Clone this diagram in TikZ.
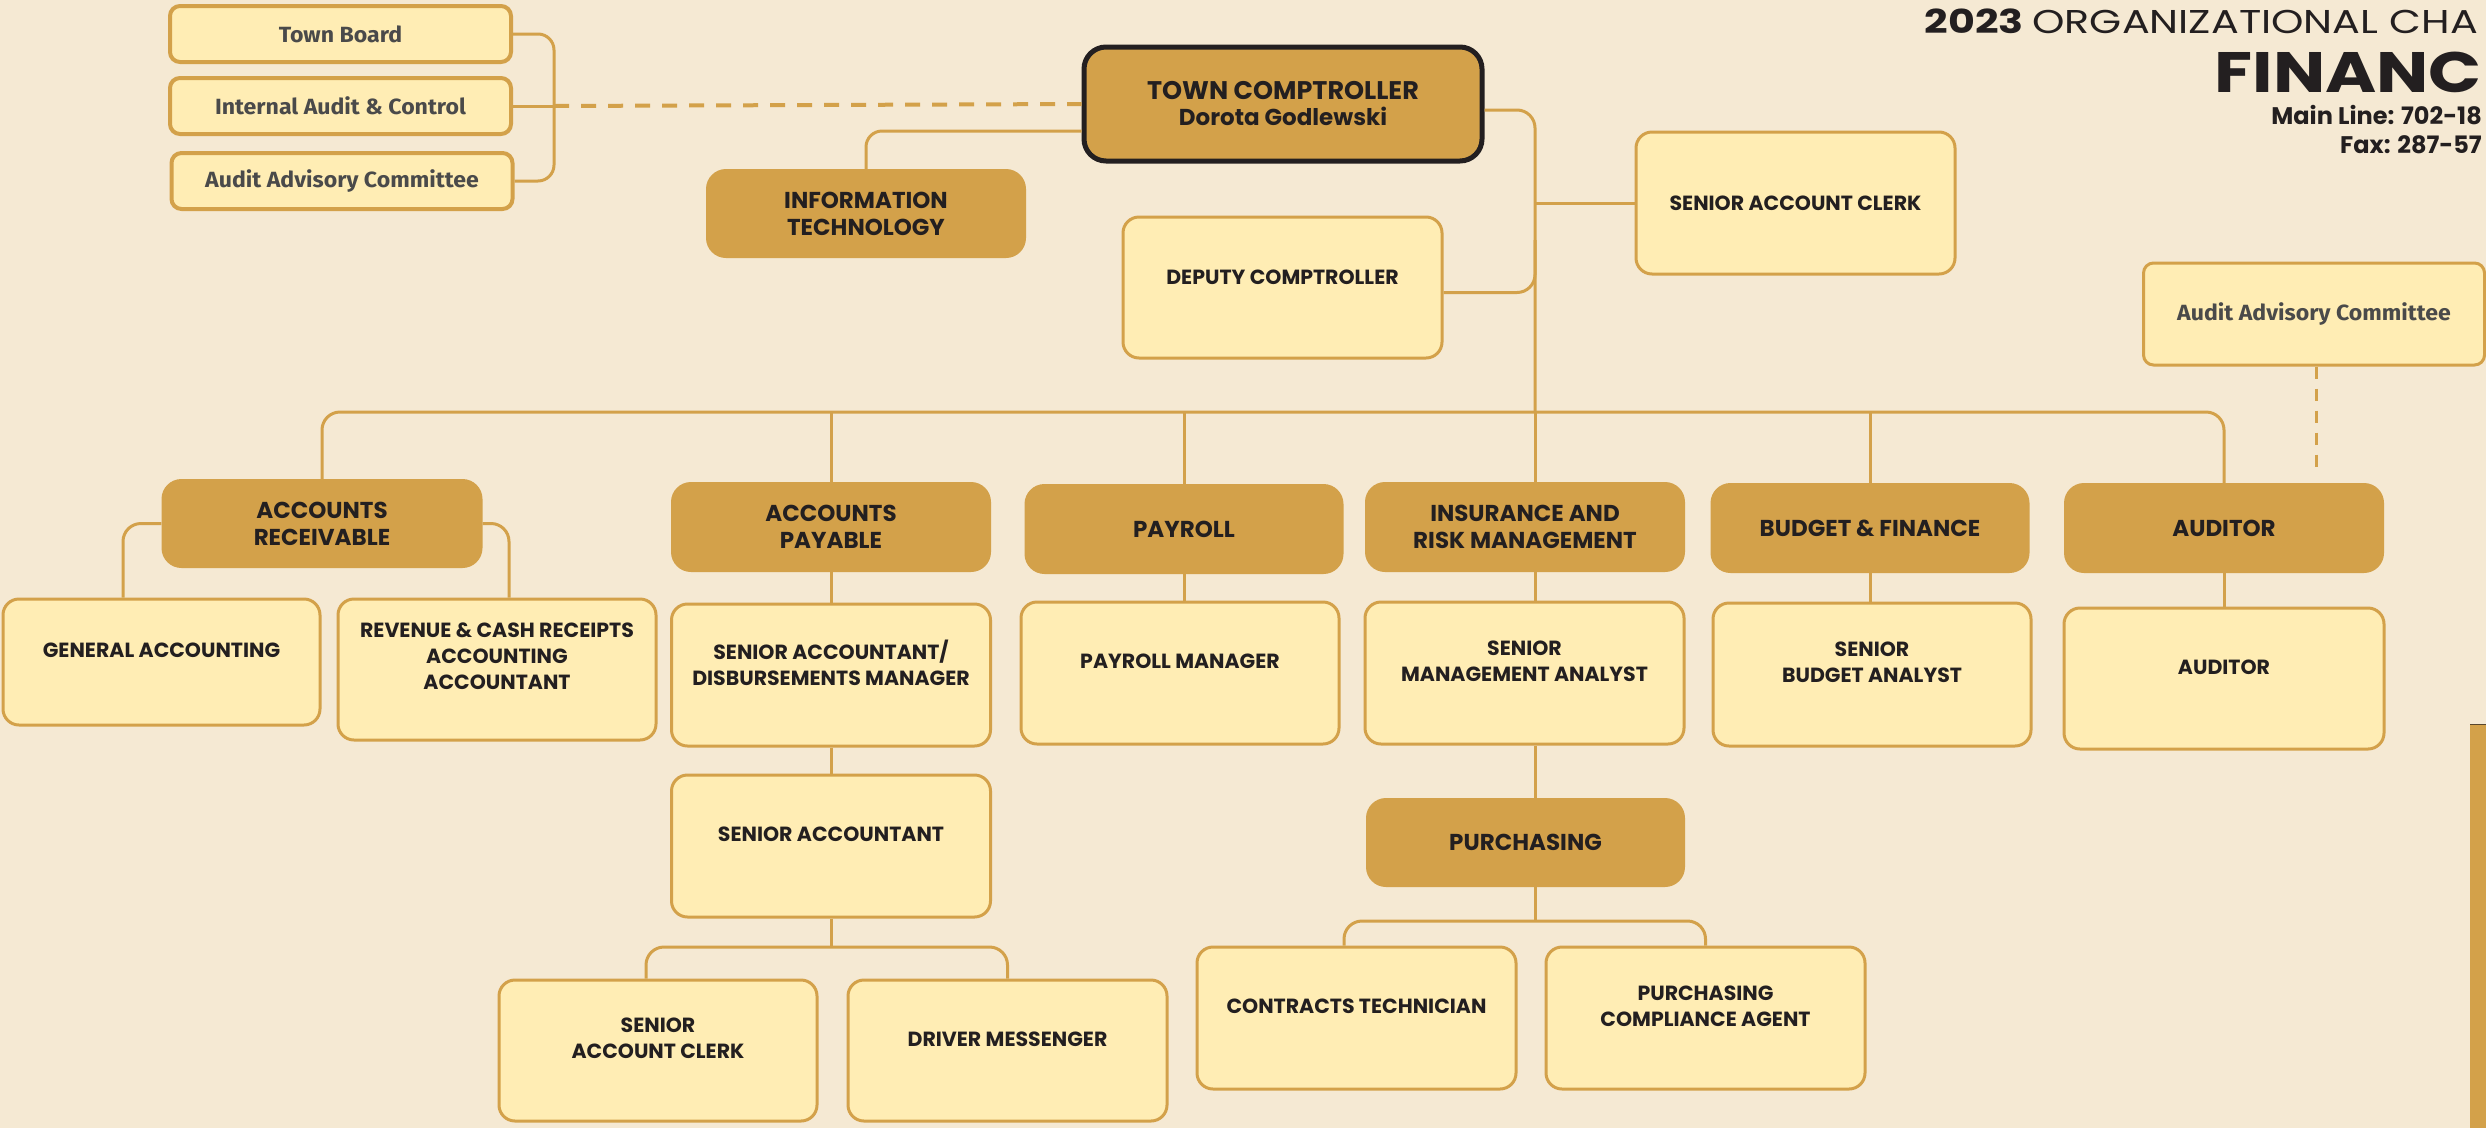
\documentclass[tikz,border=0pt]{standalone}
\usepackage{fontspec}
\setmainfont{Poppins}
\newfontfamily\firafont[FakeStretch=1.05]{Fira Sans}
\newfontfamily\titlefont[FakeStretch=1.25]{Poppins}
\newfontfamily\finfont[FakeStretch=1.22]{Poppins}
\newfontfamily\linefont[FakeStretch=1.0]{Poppins}
\definecolor{bg}{HTML}{F5E9D3}
\definecolor{light}{HTML}{FFEDB4}
\definecolor{gold}{HTML}{D3A14A}
\definecolor{ink}{HTML}{231F20}
\definecolor{greytext}{HTML}{4A4A4A}
\tikzset{
  lbox/.style={draw=gold, line width=3pt, fill=light, rounded corners=16pt, inner sep=0pt, minimum width=319pt, minimum height=142pt},
  gbox/.style={fill=gold, rounded corners=20pt, inner sep=0pt, minimum width=320pt, minimum height=90pt, font=\bfseries\fontsize{23}{27}\selectfont, text=ink, align=center},
  ltxt/.style={font=\bfseries\fontsize{20.5}{26}\selectfont, text=ink, align=center, inner sep=0pt},
  sbox/.style={draw=gold, line width=4pt, fill=light, rounded corners=10pt, minimum width=341pt, minimum height=56pt, inner sep=0pt, font=\firafont\bfseries\fontsize{22}{26}\selectfont, text=greytext},
  conn/.style={draw=gold, line width=3pt},
  dashconn/.style={draw=gold, line width=4pt, dash pattern=on 15pt off 12pt},
  dashconnv/.style={draw=gold, line width=3pt, dash pattern=on 12pt off 10pt},
  ttl/.style={inner sep=0pt, text=ink, anchor=base east},
}
\begin{document}
\begin{tikzpicture}[x=1pt,y=-1pt]
\useasboundingbox (0,0) rectangle (2486,1128);
\clip (0,0) rectangle (2486,1128);
\fill[bg] (0,0) rectangle (2486,1128);

% title
\node[ttl, font=\titlefont\fontsize{33}{36}\selectfont] (title) at (2478,33) {\bfseries 2023 \mdseries ORGANIZATIONAL CHA};
\node[ttl, font=\finfont\bfseries\fontsize{57}{60}\selectfont] (fin) at (2482,92) {FINANC};
\node[ttl, font=\linefont\bfseries\fontsize{24}{28}\selectfont] (mainline) at (2482,124) {Main Line: 702-18};
\node[ttl, font=\linefont\bfseries\fontsize{24}{28}\selectfont] (fax) at (2482,153) {Fax: 287-57};

% right edge bar
\fill[gold] (2470,724) rectangle (2486,1128);
\draw[ink!70!gold, line width=1pt] (2470,724) -- (2486,724);

% top-left boxes
\node[sbox] (tb) at (340.5,34) {Town Board};
\node[sbox] (iac) at (340.5,106) {Internal Audit \& Control};
\node[sbox] (aac) at (342,181) {Audit Advisory Committee};

% comptroller
\node[gbox, draw=ink, line width=5pt, minimum width=398pt, minimum height=114pt, rounded corners=22pt] (tc) at (1283,104)
  {\fontsize{25.5}{27}\selectfont TOWN COMPTROLLER\\[-1pt]\fontsize{23}{27}\selectfont Dorota Godlewski};
\node[gbox, minimum height=89pt] (it) at (866,213.5) {INFORMATION\\TECHNOLOGY};
\node[lbox, minimum height=141pt] (dc) at (1282.5,287.5) {};
\node[ltxt] (dcT) at ([yshift=10pt]dc.center) {DEPUTY COMPTROLLER};
\node[lbox] (sac) at (1795.5,203) {};
\node[ltxt] (sacT) at (sac.center) {SENIOR ACCOUNT CLERK};
\node[sbox, minimum height=102pt, line width=3pt] (aac2) at (2314,314) {Audit Advisory Committee};

% department heads
\node[gbox, minimum height=89pt, minimum width=321pt] (ar) at (322,523.5) {ACCOUNTS\\RECEIVABLE};
\node[gbox] (ap) at (831,527) {ACCOUNTS\\PAYABLE};
\node[gbox, minimum width=319pt] (pay) at (1184,529) {PAYROLL};
\node[gbox] (ins) at (1525,527) {INSURANCE AND\\RISK MANAGEMENT};
\node[gbox, minimum width=319pt] (bud) at (1870,528) {BUDGET \& FINANCE};
\node[gbox] (aud) at (2224,528) {AUDITOR};

% staff row
\node[lbox, minimum width=317pt, minimum height=126pt] (ga) at (161.5,662) {};
\node[ltxt] (gaT) at ([yshift=12pt]ga.center) {GENERAL ACCOUNTING};
\node[lbox, minimum width=318pt, minimum height=141pt] (rev) at (497,669.5) {};
\node[ltxt] (revT) at ([yshift=13pt]rev.center) {REVENUE \& CASH RECEIPTS\\ACCOUNTING\\ACCOUNTANT};
\node[lbox] (sadm) at (831,675) {};
\node[ltxt] (sadmT) at ([yshift=12pt]sadm.center) {SENIOR ACCOUNTANT/\\DISBURSEMENTS MANAGER};
\node[lbox, minimum width=318pt] (pm) at (1180,673) {};
\node[ltxt] (pmT) at ([yshift=12pt]pm.center) {PAYROLL MANAGER};
\node[lbox] (sma) at (1524.5,673) {};
\node[ltxt] (smaT) at ([yshift=12pt]sma.center) {SENIOR\\MANAGEMENT ANALYST};
\node[lbox, minimum width=318pt, minimum height=143pt] (sba) at (1872,674.5) {};
\node[ltxt] (sbaT) at ([yshift=12pt]sba.center) {SENIOR\\BUDGET ANALYST};
\node[lbox, minimum width=320pt, minimum height=141pt] (aud2) at (2224,678.5) {};
\node[ltxt] (aud2T) at ([yshift=11pt]aud2.center) {AUDITOR};

% lower rows
\node[lbox] (sa) at (831,846) {};
\node[ltxt] (saT) at ([yshift=12pt]sa.center) {SENIOR ACCOUNTANT};
\node[gbox, minimum width=319pt, minimum height=89pt] (pur) at (1525.5,842.5) {PURCHASING};
\node[lbox, minimum width=318pt, minimum height=141pt] (sac2) at (658,1050.5) {};
\node[ltxt] (sac2T) at ([yshift=12pt]sac2.center) {SENIOR\\ACCOUNT CLERK};
\node[lbox, minimum height=141pt] (dm) at (1007.5,1050.5) {};
\node[ltxt] (dmT) at ([yshift=11pt]dm.center) {DRIVER MESSENGER};
\node[lbox] (ct) at (1356.5,1018) {};
\node[ltxt] (ctT) at ([yshift=12pt]ct.center) {CONTRACTS TECHNICIAN};
\node[lbox] (pca) at (1705.5,1018) {};
\node[ltxt] (pcaT) at ([yshift=12pt]pca.center) {PURCHASING\\COMPLIANCE AGENT};

% coordinates
\coordinate (brk) at (554,106);
\coordinate (trunk) at (1535,412);
\coordinate (trunkDC) at (1535,240);
\coordinate (arLx) at (123,0);
\coordinate (arRx) at (509,0);
\coordinate (saBus) at (831,947);
\coordinate (sacX) at (646,0);
\coordinate (purBus) at (1535,921);
\coordinate (ctX) at (1344,0);
\coordinate (audD) at (2316,473);

% connectors
\draw[conn, rounded corners=16pt] (tb.east) -| (brk) |- (aac.east);
\draw[conn] (iac.east) -- (brk);
\draw[dashconn] (brk) -- (tc.west);
\draw[conn, rounded corners=16pt] ([yshift=-27pt]tc.west) -| (it.north);
\draw[conn, rounded corners=18pt] ([yshift=-6pt]tc.east) -| (trunk);
\draw[conn, rounded corners=18pt] ([yshift=-5pt]dc.east) -| (trunkDC);
\draw[conn] (trunk |- sac.west) -- (sac.west);
\draw[conn, rounded corners=18pt] (ar.north) |- (trunk) -| (aud.north);
\draw[conn] (ap.north |- trunk) -- (ap.north);
\draw[conn] (pay.north |- trunk) -- (pay.north);
\draw[conn] (trunk) -- (trunk |- ins.north);
\draw[conn] (bud.north |- trunk) -- (bud.north);
\draw[dashconnv] (aac2.south -| audD) -- (audD);

\draw[conn, rounded corners=18pt] (ar.west) -| (ga.north -| arLx);
\draw[conn, rounded corners=18pt] (ar.east) -| (rev.north -| arRx);
\draw[conn] (ap.south) -- (sadm.north);
\draw[conn] (pay.south) -- (pay.south |- pm.north);
\draw[conn] (trunk |- ins.south) -- (trunk |- sma.north);
\draw[conn] (bud.south) -- (bud.south |- sba.north);
\draw[conn] (aud.south) -- (aud2.north);

\draw[conn] (sadm.south) -- (sa.north);
\draw[conn] (trunk |- sma.south) -- (trunk |- pur.north);
\draw[conn] (sa.south) -- (saBus);
\draw[conn, rounded corners=18pt] (sac2.north -| sacX) |- (saBus) -| (dm.north);
\draw[conn] (trunk |- pur.south) -- (purBus);
\draw[conn, rounded corners=18pt] (ct.north -| ctX) |- (purBus) -| (pca.north);
\end{tikzpicture}
\end{document}
